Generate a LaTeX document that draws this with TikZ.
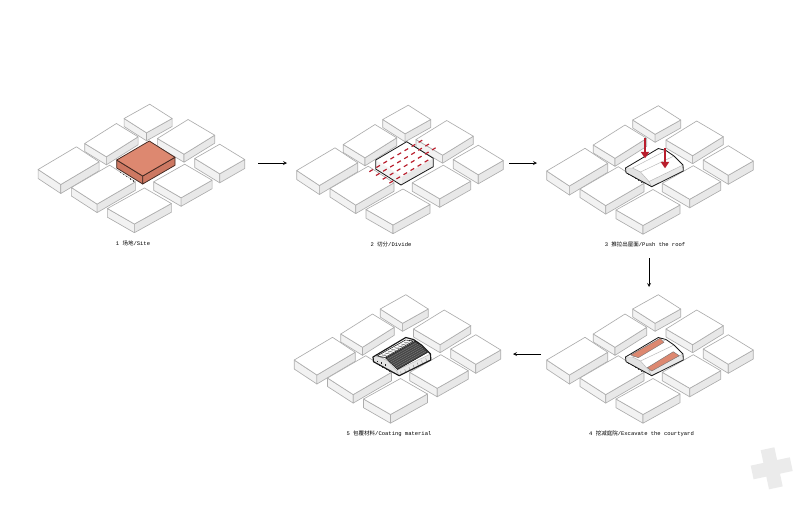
\documentclass[tikz,border=0pt]{standalone}
\usepackage{fontspec}
\setmonofont{Liberation Mono}
\newfontfamily\cjk{Noto Sans CJK SC}
\usetikzlibrary{calc,arrows.meta}
\definecolor{brick}{RGB}{221,136,112}
\definecolor{brickdark}{RGB}{205,120,98}
\definecolor{arrowred}{RGB}{185,30,45}
\tikzset{
	edge/.style={draw=black!32, line width=0.55pt, line join=round},
	fold/.style={draw=black!28, line width=0.4pt, line join=round},
	outline/.style={draw=black!90, line width=0.7pt, line join=round},
	sitefill/.style={draw=black!70!brick, line width=0.65pt, line join=round},
	pit/.style={fill=brick, draw=black!55, line width=0.35pt, line join=round},
	caption/.style={font=\ttfamily\fontsize{4.7}{6}\selectfont, inner sep=0pt},
	flow/.style={-stealth, line width=0.5pt},
	push/.style={draw=arrowred, line width=2.3pt, -{Stealth[length=5.5pt,width=7pt,inset=0pt]}}
}
\newcommand{\blockbox}[4]% left, top, right, height
{
	\coordinate (l) at (#1);
	\coordinate (t) at (#2);
	\coordinate (r) at (#3);
	\coordinate (b) at ($(l)+(r)-(t)$);
	\filldraw[edge, fill=black!5] (l) -- (b) -- ($(b)+(0,#4)$) -- ($(l)+(0,#4)$) -- cycle;
	\filldraw[edge, fill=black!9] (b) -- (r) -- ($(r)+(0,#4)$) -- ($(b)+(0,#4)$) -- cycle;
	\filldraw[edge, fill=white] (l) -- (t) -- (r) -- (b) -- cycle;
}
\newcommand{\cityblocks}
{
	\blockbox{123.7,119}{149.3,104.7}{171.7,119}{8}
	\blockbox{84.3,144}{116,124}{137.7,137.3}{8}
	\blockbox{157,139}{187.7,120}{214.3,135.7}{8}
	\blockbox{194.3,159}{219.3,144.7}{244.3,160}{9}
	\blockbox{37.7,170}{76,147.3}{98.7,162.3}{9}
	\blockbox{71,188}{109.3,165.7}{135,182.3}{8.5}
	\blockbox{153.3,182.3}{184.3,164.7}{211.7,180.7}{8.5}
	\blockbox{107,209}{144,188.5}{171,204}{8.7}
}
\newcommand{\sitedots}% little marks along the near edge
{
	\foreach \k in {0,...,4}
		\draw[black!70, line width=0.5pt] ($(119.5,172.5)+\k*(3.3,2.1)$) -- ++(0,1.2);
}
\newcommand{\roofbody}
{
	\fill[white] (116.5,167) -- (149.3,147.5) -- (157,149.5) -- (165,155) -- (174,164) -- (174.3,170) -- (142.7,185.7) -- (117,171.7) -- cycle;
	\fill[black!11] (116.5,167) -- (123.5,167) -- (131.5,171) -- (140,180.5) -- (142.7,185.7) -- (117,171.7) -- cycle;
	\fill[black!9] (140,180.5) -- (174,164) -- (174.3,170) -- (142.7,185.7) -- cycle;
	\draw[fold] (116.5,167) -- (123.5,167) -- (131.5,171) -- (140,180.5) -- (142.7,185.7);
	\draw[fold] (123.5,167) -- (157,149.5);
	\draw[fold] (131.5,171) -- (165,155);
	\draw[fold] (140,180.5) -- (174,164);
	\sitedots
}
\newcommand{\roofoutline}
{
	\draw[outline] (116.5,167) -- (149.3,147.5) -- (157,149.5) -- (165,155) -- (174,164) -- (174.3,170) -- (142.7,185.7) -- (117,171.7) -- cycle;
}
\begin{document}
\begin{tikzpicture}[x=0.03cm, y=-0.03cm]
	\useasboundingbox (0,0) rectangle (800,518);
	% watermark
	\fill[black!8, rotate around={12:(771.7,468.3)}] (764.7,448.3) -- (778.7,448.3) -- (778.7,461.3) -- (791.7,461.3) -- (791.7,475.3) -- (778.7,475.3) -- (778.7,488.3) -- (764.7,488.3) -- (764.7,475.3) -- (751.7,475.3) -- (751.7,461.3) -- (764.7,461.3) -- cycle;
	% 1 site
	\begin{scope}[shift={(0.4,-0.5)}]
		\cityblocks
		\filldraw[sitefill, fill=brickdark] (116.3,160.5) -- (142.3,176.5) -- (142.3,184.5) -- (116.3,168.5) -- cycle;
		\filldraw[sitefill, fill=brickdark] (142.3,176.5) -- (174.6,157.8) -- (174.6,165.8) -- (142.3,184.5) -- cycle;
		\filldraw[sitefill, fill=brick] (116.3,160.5) -- (148.9,141.5) -- (174.6,157.8) -- (142.3,176.5) -- cycle;
		\sitedots
	\end{scope}
	% 2 divide
	\begin{scope}[shift={(259,0.5)}]
		\cityblocks
		\fill[white] (116.7,159.5) -- (147.7,141.2) -- (174.3,157.8) -- (174.3,166.2) -- (142,184.5) -- (116.7,168.5) -- cycle;
		\fill[black!9] (143.3,176.1) -- (174.3,157.8) -- (174.3,166.2) -- (142,184.5) -- cycle;
		\fill[black!5] (116.7,159.5) -- (143.3,176.1) -- (142,184.5) -- (116.7,168.5) -- cycle;
		\draw[outline] (116.7,159.5) -- (147.7,141.2) -- (174.3,157.8) -- (174.3,166.2) -- (142,184.5) -- (116.7,168.5) -- cycle;
		\foreach \k/\n in {0/1,1/1,2/1,3/0.73}
			\draw[arrowred, line width=1pt, dash pattern=on 3.6pt off 3.4pt] ($(110.3,171.2)+\k*(6.7,3.8)$) -- ++(\n*53.3,-\n*31.7);
	\end{scope}
	% 3 push the roof
	\begin{scope}[shift={(509,1)}]
		\cityblocks
		\roofbody
		\roofoutline
		\coordinate (pusha) at (136,136.7);
		\coordinate (pushb) at (136,157.3);
		\coordinate (pushc) at (156,147.3);
		\coordinate (pushd) at (156,167.3);
		\draw[push] (pusha) -- (pushb);
		\draw[push] (pushc) -- (pushd);
	\end{scope}
	% 4 courtyard
	\begin{scope}[shift={(509,190)}]
		\cityblocks
		\roofbody
		\filldraw[pit] (121.7,165) -- (151,148.3) -- (155,152.3) -- (129.3,167.7) -- cycle;
		\filldraw[pit] (138.3,177.7) -- (164.3,161.7) -- (170.3,165.7) -- (142.7,181) -- cycle;
		\roofoutline
	\end{scope}
	% 5 coating
	\begin{scope}[shift={(256.5,190)}]
		\cityblocks
		\roofbody
		\filldraw[fill=black!72, draw=black, line width=0.3pt] (129,168) -- (159,151) -- (171,162.5) -- (141,179.5) -- cycle;
		\foreach \k in {1,...,7}
			\draw[black!45, line width=0.2pt] ($(129,168)+\k*(1.5,1.45)$) -- ++(30,-17);
		\draw[black!85, line width=0.5pt] (120.5,166) -- (149,150) -- (157,151) -- (128.5,167.5) -- cycle;
		\foreach \k in {0,...,8}
			\draw[black!70, line width=0.3pt] ($(122,166.5)+\k*(3.2,-1.8)$) -- ++(5,1.2);
		\foreach \k in {0,...,6}
			\draw[black!55, line width=0.25pt] ($(144,181.5)+\k*(4.2,-2.2)$) -- ++(1,3);
		\foreach \k in {0,1,2}
			\fill[black!85] ($(120,170.5)+\k*(4,1.7)$) rectangle ++(1.6,1.6);
		\draw[outline, line width=1pt] (116.5,167) -- (149.3,147.5) -- (157,149.5) -- (165,155) -- (174,164) -- (174.3,170) -- (142.7,185.7) -- (117,171.7) -- cycle;
	\end{scope}
	% captions
	\node[caption] (site) at (133,243) {1 {\cjk 场地}/Site};
	\node[caption] (divide) at (391,244) {2 {\cjk 切分}/Divide};
	\node[caption] (roof) at (645,244) {3 {\cjk 推拉出屋面}/Push the roof};
	\node[caption] (court) at (641.5,434) {4 {\cjk 挖减庭院}/Excavate the courtyard};
	\node[caption] (coat) at (389,434) {5 {\cjk 包覆材料}/Coating material};
	% arrows between the steps
	\coordinate (aone) at (258,163);
	\coordinate (atwo) at (287,163);
	\coordinate (athree) at (509,163);
	\coordinate (afour) at (537,163);
	\coordinate (afive) at (649,258);
	\coordinate (asix) at (649,287);
	\coordinate (aseven) at (541,354);
	\coordinate (aeight) at (513,354);
	\draw[flow] (aone) -- (atwo);
	\draw[flow] (athree) -- (afour);
	\draw[flow] (afive) -- (asix);
	\draw[flow] (aseven) -- (aeight);
\end{tikzpicture}
\end{document}
